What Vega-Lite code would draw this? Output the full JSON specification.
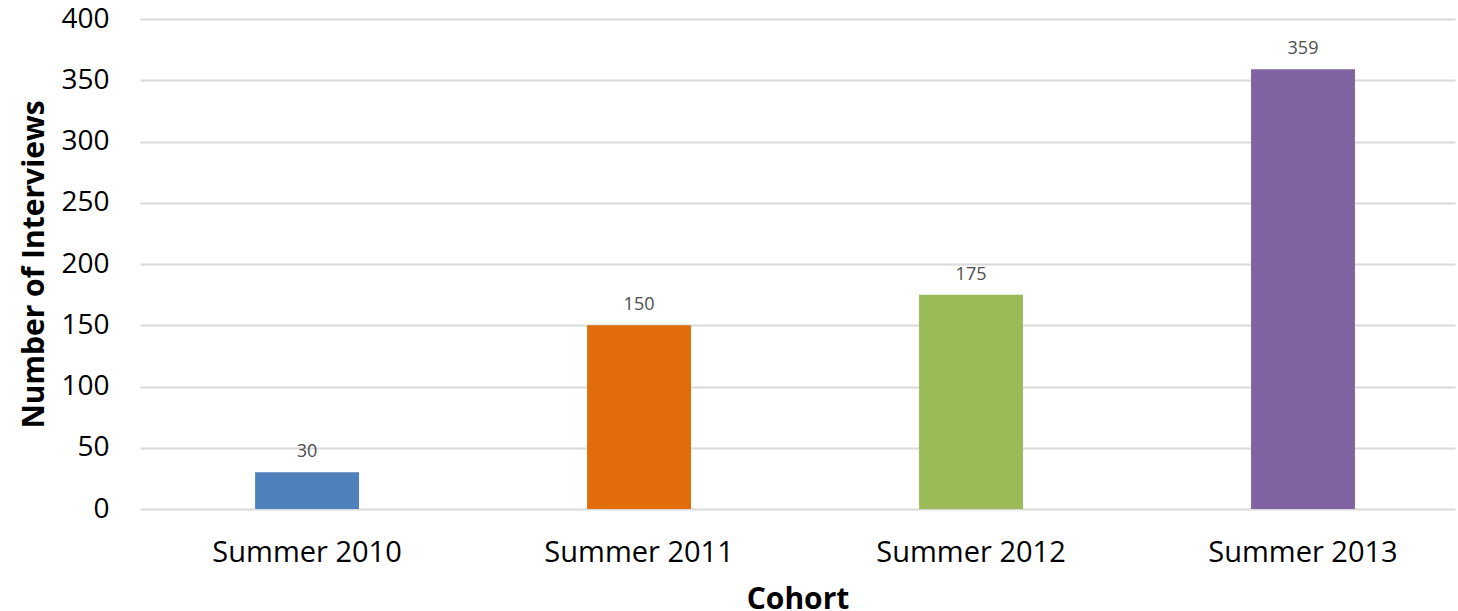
{
  "$schema": "https://vega.github.io/schema/vega-lite/v6.json",
  "autosize": {"type": "none"},
  "width": 1315,
  "height": 490,
  "padding": {"left": 140, "top": 19, "right": 3, "bottom": 102},
  "background": "white",
  "config": {
    "view": {"stroke": null},
    "font": "Open Sans",
    "axis": {
      "labelFont": "Open Sans",
      "titleFont": "Open Sans",
      "labelColor": "#000000",
      "titleColor": "#000000",
      "gridColor": "#D9D9D9",
      "gridWidth": 2,
      "domain": false,
      "ticks": false,
      "labelLimit": 0
    }
  },
  "data": {
    "values": [
      {"cohort": "Summer 2010", "interviews": 30},
      {"cohort": "Summer 2011", "interviews": 150},
      {"cohort": "Summer 2012", "interviews": 175},
      {"cohort": "Summer 2013", "interviews": 359}
    ]
  },
  "encoding": {
    "x": {
      "field": "cohort",
      "type": "nominal",
      "sort": null,
      "scale": {"paddingInner": 0.687, "paddingOuter": 0.324, "align": 0.535},
      "axis": {
        "title": "Cohort",
        "labelAngle": 0,
        "labelFontSize": 29,
        "labelPadding": 29,
        "titleFontSize": 30,
        "titleFontWeight": "bold",
        "titlePadding": 17,
        "grid": false
      }
    },
    "y": {
      "field": "interviews",
      "type": "quantitative",
      "scale": {"domain": [0, 400]},
      "axis": {
        "title": "Number of Interviews",
        "values": [0, 50, 100, 150, 200, 250, 300, 350, 400],
        "labelFontSize": 28,
        "labelPadding": 31,
        "titleFontSize": 30,
        "titleFontWeight": "bold",
        "titlePadding": 11
      }
    }
  },
  "layer": [
    {
      "mark": {"type": "bar"},
      "encoding": {
        "color": {
          "field": "cohort",
          "type": "nominal",
          "sort": null,
          "scale": {"range": ["#4F81BD", "#E36C0A", "#9BBB59", "#8064A2"]},
          "legend": null
        }
      }
    },
    {
      "mark": {"type": "text", "baseline": "alphabetic", "dy": -15, "fontSize": 18, "color": "#4D4D4D"},
      "encoding": {
        "text": {"field": "interviews", "type": "quantitative"}
      }
    }
  ]
}
